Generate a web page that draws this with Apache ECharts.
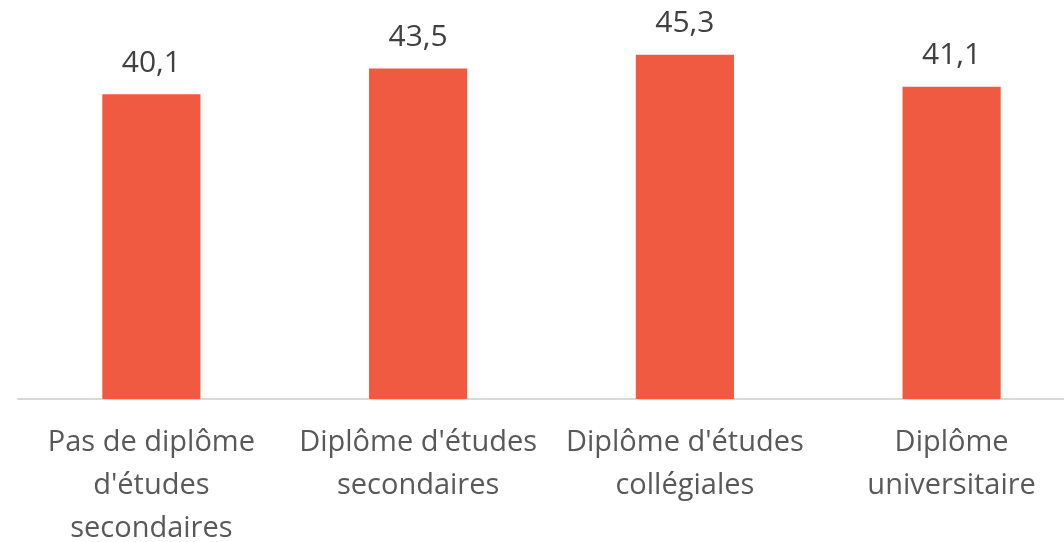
<!DOCTYPE html>
<html>
<head>
<meta charset="utf-8">
<script src="https://cdn.jsdelivr.net/npm/echarts@6/dist/echarts.min.js"></script>
<style>
  html, body { margin: 0; padding: 0; background: #fff; }
  #chart { width: 1064px; height: 542px; }
</style>
</head>
<body>
<div id="chart"></div>
<script>
// categories and values
const categories = [
  "Pas de diplôme\nd'études\nsecondaires",
  "Diplôme d'études\nsecondaires",
  "Diplôme d'études\ncollégiales",
  "Diplôme\nuniversitaire"
]
const values = [40.1, 43.5, 45.3, 41.1]

const chart = echarts.init(document.getElementById('chart'))

chart.setOption({
  animation: false,
  grid: { left: 18, width: 1067, top: 19, bottom: 143, outerBoundsMode: 'none', containLabel: false },
  xAxis: {
    type: 'category',
    data: categories,
    axisLine: { lineStyle: { color: '#d9d9d9', width: 2 } },
    axisTick: { show: false },
    axisLabel: {
      color: '#595959',
      fontFamily: 'Open Sans',
      fontSize: 29,
      lineHeight: 43,
      margin: 22,
      interval: 0
    }
  },
  yAxis: {
    type: 'value',
    min: 0,
    max: 50,
    show: false,
    splitLine: { show: false }
  },
  series: [{
    type: 'bar',
    data: values,
    barWidth: '36.8%',
    itemStyle: { color: '#F05A40' },
    label: {
      show: true,
      position: 'top',
      distance: 16,
      color: '#404040',
      fontFamily: 'Open Sans',
      fontSize: 30,
      formatter: p => String(p.value).replace('.', ',')
    }
  }]
})
</script>
</body>
</html>
